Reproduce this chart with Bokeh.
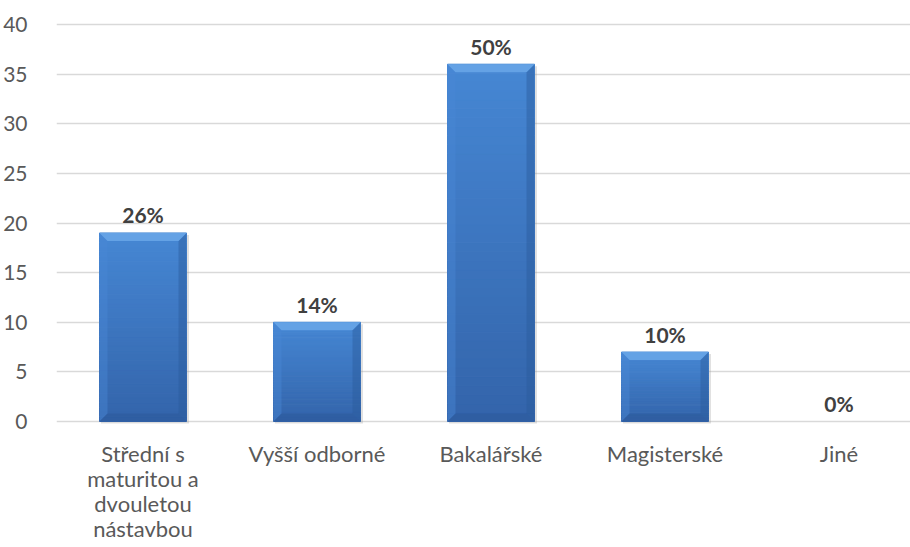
from bokeh.plotting import figure
from bokeh.models import FixedTicker, Range1d, ColumnDataSource
from bokeh.embed import file_html
from bokeh.resources import INLINE
from bokeh.core.properties import value

# ---- data ----
categories = [
    "Střední s\nmaturitou a\ndvouletou\nnástavbou",
    "Vyšší odborné",
    "Bakalářské",
    "Magisterské",
    "Jiné",
]
counts = [19, 10, 36, 7, 0]
shares = ["26%", "14%", "50%", "10%", "0%"]
y_ticks = [0, 5, 10, 15, 20, 25, 30, 35, 40]

# ---- layout (pixels) ----
W, H = 910, 547
BORDER_L, BORDER_R, BORDER_T, BORDER_B = 56, 0, 22, 124
FRAME_W = W - BORDER_L - BORDER_R
FRAME_H = H - BORDER_T - BORDER_B
PX_PER_CAT = 174.0
PX_PER_UNIT = 9.925
FIRST_CENTER_PX = 86.5  # from frame left

x_start = -FIRST_CENTER_PX / PX_PER_CAT
x_end = x_start + FRAME_W / PX_PER_CAT
y_pad = 2.0 / PX_PER_UNIT
y_start = -y_pad
y_end = y_start + FRAME_H / PX_PER_UNIT

p = figure(
    width=W, height=H,
    x_range=Range1d(x_start, x_end),
    y_range=Range1d(y_start, y_end),
    output_backend="svg", toolbar_location=None,
    min_border_left=BORDER_L, min_border_right=BORDER_R,
    min_border_top=BORDER_T, min_border_bottom=BORDER_B,
)
p.outline_line_color = None
p.background_fill_color = "white"
p.border_fill_color = "white"

xs = list(range(len(categories)))

# axes
p.xaxis.ticker = FixedTicker(ticks=xs)
p.xaxis.major_label_overrides = {i: c for i, c in enumerate(categories)}
p.yaxis.ticker = FixedTicker(ticks=y_ticks)
for ax in (p.xaxis[0], p.yaxis[0]):
    ax.axis_line_color = None
    ax.major_tick_line_color = None
    ax.minor_tick_line_color = None
    ax.major_label_text_font = "Lato"
    ax.major_label_text_color = "#595959"
p.yaxis.major_label_text_font_size = "21px"
p.yaxis.major_label_standoff = 23
p.xaxis.major_label_text_font_size = "22px"
p.xaxis.major_label_text_line_height = 0.93
p.xaxis.major_label_standoff = 10

p.xgrid.grid_line_color = None
p.ygrid.ticker = FixedTicker(ticks=y_ticks)
p.ygrid.grid_line_color = "#d9d9d9"
p.ygrid.grid_line_width = 1.4

# ---- bars with bevel and vertical shading ----
BAR_W = 87.0 / PX_PER_CAT
BX = 8.0 / PX_PER_CAT
BY = 8.0 / PX_PER_UNIT
N_BANDS = 40


def mix(c1, c2, t):
    a = [int(c1[i:i + 2], 16) for i in (1, 3, 5)]
    b = [int(c2[i:i + 2], 16) for i in (1, 3, 5)]
    return "#%02x%02x%02x" % tuple(round(a[k] + (b[k] - a[k]) * t) for k in range(3))


BOTTOM_C, TOP_C = "#3364aa", "#4687d4"

band = dict(left=[], right=[], bottom=[], top=[], color=[])
shadow = dict(left=[], right=[], bottom=[], top=[])
bev_top, bev_left, bev_right, bev_bot = ([], []), ([], []), ([], []), ([], [])

for x, v in zip(xs, counts):
    if v <= 0:
        continue
    x0, x1 = x - BAR_W / 2, x + BAR_W / 2
    shadow["left"].append(x0 + 1.5 / PX_PER_CAT)
    shadow["right"].append(x1 + 2.5 / PX_PER_CAT)
    shadow["bottom"].append(-2.5 / PX_PER_UNIT)
    shadow["top"].append(v - 2 / PX_PER_UNIT)
    for k in range(N_BANDS):
        band["left"].append(x0)
        band["right"].append(x1)
        band["bottom"].append(v * k / N_BANDS)
        band["top"].append(v * (k + 1) / N_BANDS)
        band["color"].append(mix(BOTTOM_C, TOP_C, (k + 0.5) / N_BANDS))
    bev_top[0].append([x0, x1, x1 - BX, x0 + BX])
    bev_top[1].append([v, v, v - BY, v - BY])
    bev_left[0].append([x0, x0 + BX, x0 + BX, x0])
    bev_left[1].append([v, v - BY, BY, 0])
    bev_right[0].append([x1, x1 - BX, x1 - BX, x1])
    bev_right[1].append([v, v - BY, BY, 0])
    bev_bot[0].append([x0, x0 + BX, x1 - BX, x1])
    bev_bot[1].append([0, BY, BY, 0])

p.quad(source=ColumnDataSource(shadow), left="left", right="right",
       bottom="bottom", top="top", fill_color="#9a9a9a", fill_alpha=0.3,
       line_color=None)
p.quad(source=ColumnDataSource(band), left="left", right="right",
       bottom="bottom", top="top", fill_color="color", line_color="color",
       line_width=1)
p.patches(bev_left[0], bev_left[1], fill_color="#4a88d4", fill_alpha=0.45, line_color=None)
p.patches(bev_right[0], bev_right[1], fill_color="#2a5a9c", fill_alpha=0.45, line_color=None)
p.patches(bev_bot[0], bev_bot[1], fill_color="#2a5796", fill_alpha=0.45, line_color=None)
p.patches(bev_top[0], bev_top[1], fill_color="#66a3e6", fill_alpha=0.95, line_color=None)

# ---- value labels ----
p.text(x=xs, y=counts, text=shares, text_align="center",
       text_baseline="alphabetic", y_offset=-18,
       text_font=value("Lato"), text_font_style="bold",
       text_font_size="21px", text_color="#404040")

open("out.html", "w").write(file_html(p, INLINE))
